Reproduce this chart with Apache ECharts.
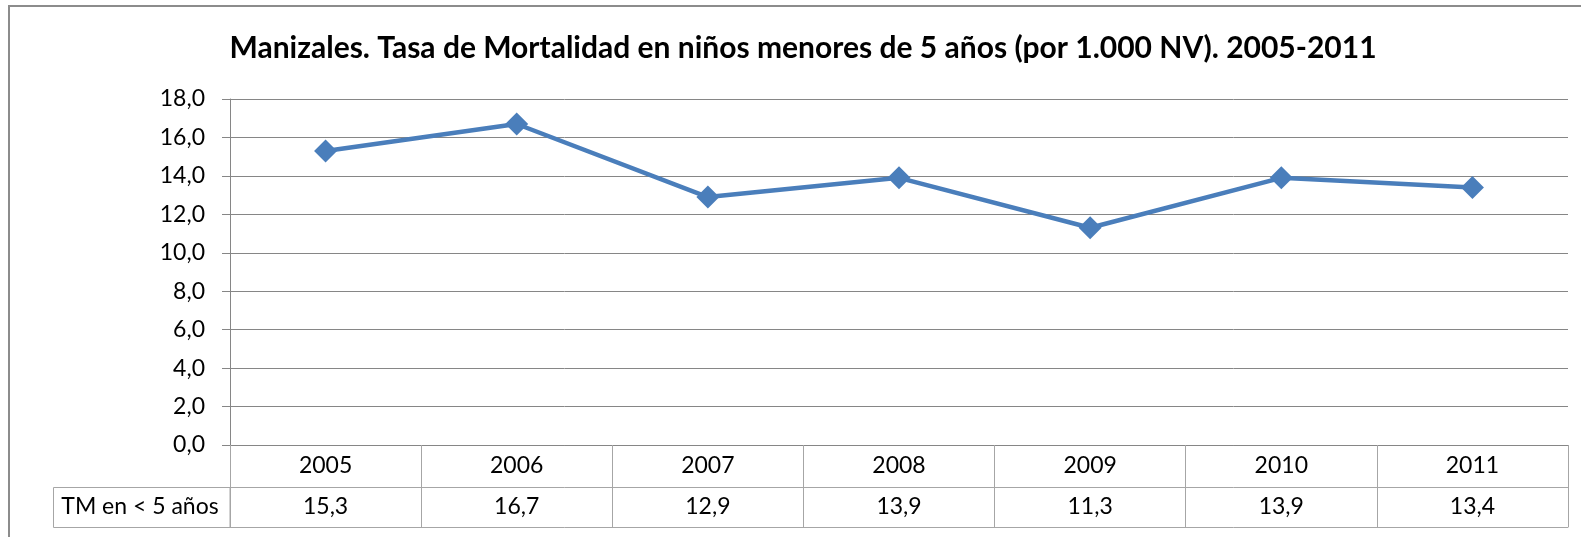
<!DOCTYPE html>
<html>
<head>
<meta charset="utf-8">
<script src="https://cdn.jsdelivr.net/npm/echarts@6/dist/echarts.min.js"></script>
<style>
html,body{margin:0;padding:0;background:#fff;}
#chart{width:1581px;height:537px;}
</style>
</head>
<body>
<div id="chart"></div>
<script>
const titleText = 'Manizales. Tasa de Mortalidad en niños menores de 5 años (por 1.000 NV). 2005-2011';
const years = ['2005', '2006', '2007', '2008', '2009', '2010', '2011'];
const values = [15.3, 16.7, 12.9, 13.9, 11.3, 13.9, 13.4];
const seriesName = 'TM en < 5 años';
const yTicks = { min: 0, max: 18, interval: 2 };

const fmt = v => v.toFixed(1).replace('.', ',');
const valueLabels = values.map(fmt);
const FONT = 'Lato';
const FS = 23;
const gridColor = '#868686';
const tableColor = '#a6a6a6';

const chart = echarts.init(document.getElementById('chart'), null, { renderer: 'canvas' });
chart.setOption({
  animation: false,
  backgroundColor: '#ffffff',
  textStyle: { fontFamily: FONT },
  grid: { left: 230, right: 13, top: 99, bottom: 92, containLabel: false },
  xAxis: [
    {
      type: 'category', data: years, position: 'bottom', boundaryGap: true,
      axisLine: { show: true, lineStyle: { color: gridColor, width: 1 } },
      axisTick: { show: true, interval: 0, length: 82, lineStyle: { color: tableColor, width: 1 } },
      axisLabel: { interval: 0, color: '#000', fontSize: FS, fontFamily: FONT, margin: 21, verticalAlign: 'middle' },
      splitLine: { show: false }
    },
    {
      type: 'category', data: valueLabels, position: 'bottom', offset: 42, boundaryGap: true,
      axisLine: { show: true, lineStyle: { color: tableColor, width: 1 } },
      axisTick: { show: false },
      axisLabel: { interval: 0, color: '#000', fontSize: FS, fontFamily: FONT, margin: 20, verticalAlign: 'middle' },
      splitLine: { show: false }
    },
    {
      type: 'category', data: years, position: 'bottom', offset: 82, boundaryGap: true,
      axisLine: { show: true, lineStyle: { color: tableColor, width: 1 } },
      axisTick: { show: false },
      axisLabel: { show: false },
      splitLine: { show: false }
    }
  ],
  yAxis: {
    type: 'value', min: yTicks.min, max: yTicks.max, interval: yTicks.interval,
    axisLine: { show: true, lineStyle: { color: gridColor, width: 1 } },
    axisTick: { show: true, length: 8, lineStyle: { color: gridColor } },
    axisLabel: { color: '#000', fontSize: FS, fontFamily: FONT, margin: 25, formatter: v => fmt(v) },
    splitLine: { show: true, lineStyle: { color: gridColor, width: 1 } }
  },
  series: [{
    name: seriesName, type: 'line', xAxisIndex: 0, data: values,
    symbol: 'diamond', symbolSize: 23,
    lineStyle: { color: '#4a7ebb', width: 4.5 },
    itemStyle: { color: '#4a7ebb' },
    z: 5
  }],
  graphic: [
    { type: 'rect', shape: { x: 9, y: 6, width: 1600, height: 600 }, style: { fill: 'none', stroke: '#8c8c8c', lineWidth: 2 }, silent: true },
    { type: 'rect', shape: { x: 53.5, y: 487.5, width: 176.5, height: 40 }, style: { fill: 'none', stroke: tableColor, lineWidth: 1 }, silent: true },
    { type: 'text', x: 140, y: 507, style: { text: seriesName, fill: '#000', font: FS + 'px ' + FONT, textAlign: 'center', textVerticalAlign: 'middle' }, silent: true },
    { type: 'text', x: 803, y: 48, style: { text: titleText, fill: '#000', font: 'bold 30px ' + FONT, textAlign: 'center', textVerticalAlign: 'middle' }, silent: true }
  ]
});
</script>
</body>
</html>
